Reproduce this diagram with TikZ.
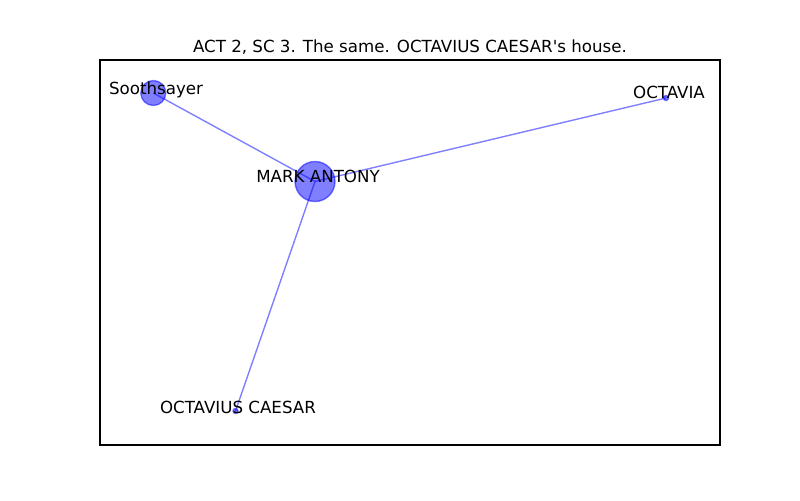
\documentclass[tikz,border=0pt]{standalone}
\usepackage{fontspec}
\setmainfont{DejaVu Sans}[Ligatures=TeXOff]
\begin{document}
\begin{tikzpicture}[x=0.72pt,y=-0.72pt,
  vert/.style={circle,fill=blue,draw=blue,fill opacity=0.5,draw opacity=0.5,line width=1pt,inner sep=0pt,minimum size=#1},
  link/.style={draw=blue,draw opacity=0.5,line width=1pt},
  lbl/.style={anchor=base,inner sep=0pt,font=\fontsize{12}{14}\selectfont}]
\useasboundingbox[fill=white] (0,0) rectangle (800,500);
\draw[line width=0.8pt] (100,60) rectangle (720,445);
\node[lbl] (title) at (410,52) {ACT 2, SC 3. The same. OCTAVIUS CAESAR's house.};
\coordinate (cma) at (315,181.5);
\coordinate (cso) at (153.3,93);
\coordinate (coa) at (666,98);
\coordinate (coc) at (235.5,411);
\draw[link] (cma) -- (cso);
\draw[link] (cma) -- (coa);
\draw[link] (cma) -- (coc);
\node[vert=28.8pt] (ma) at (cma) {};
\node[vert=18pt] (so) at (cso) {};
\node[vert=3.6pt] (oa) at (coa) {};
\node[vert=3.6pt] (oc) at (coc) {};
\node[lbl] (lma) at (318,182.3) {MARK ANTONY};
\node[lbl] (lso) at (156,94) {Soothsayer};
\node[lbl] (loa) at (669,98.3) {OCTAVIA};
\node[lbl] (loc) at (238,413.3) {OCTAVIUS CAESAR};
\end{tikzpicture}
\end{document}
